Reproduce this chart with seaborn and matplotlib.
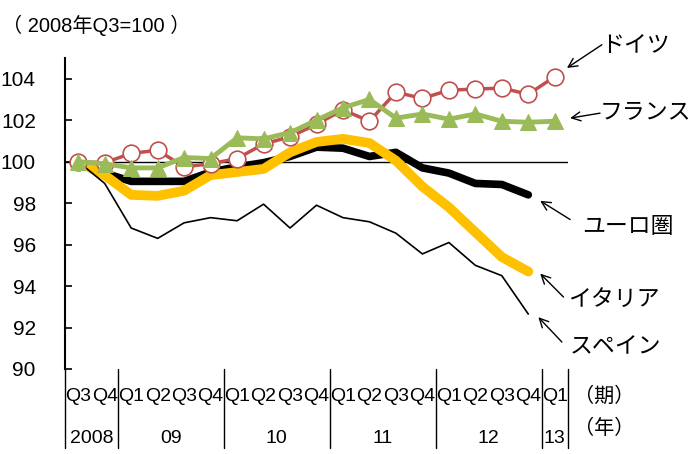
import matplotlib
matplotlib.use("Agg")
import matplotlib.pyplot as plt
import matplotlib.transforms as mtrans
import numpy as np
import pandas as pd
import seaborn as sns

# quarters from 2008Q3 to 2013Q1
quarters = ["Q3", "Q4", "Q1", "Q2", "Q3", "Q4", "Q1", "Q2", "Q3", "Q4",
            "Q1", "Q2", "Q3", "Q4", "Q1", "Q2", "Q3", "Q4", "Q1"]
years = ["2008", "09", "10", "11", "12", "13"]
quarters_per_year = [2, 4, 4, 4, 4, 1]

# real GDP index, 2008Q3 = 100
germany = [100.0, 99.95, 100.4, 100.55, 99.75, 99.9, 100.15, 100.85, 101.2, 101.8,
           102.5, 101.95, 103.35, 103.05, 103.45, 103.5, 103.55, 103.25, 104.1]
france = [100.0, 99.9, 99.7, 99.7, 100.2, 100.15, 101.15, 101.1, 101.4, 102.0,
          102.6, 103.0, 102.1, 102.3, 102.05, 102.3, 101.95, 101.9, 101.95]
euro = [100.0, 99.45, 99.05, 99.05, 99.05, 99.5, 99.75, 99.95, 100.25, 100.7,
        100.65, 100.25, 100.45, 99.7, 99.45, 98.95, 98.9, 98.4]
italy = [100.0, 99.35, 98.4, 98.35, 98.6, 99.35, 99.5, 99.65, 100.45, 100.95,
         101.1, 100.9, 100.05, 98.8, 97.8, 96.6, 95.4, 94.7]
spain = [100.0, 98.95, 96.8, 96.3, 97.05, 97.3, 97.15, 97.95, 96.8, 97.9,
         97.3, 97.1, 96.55, 95.55, 96.1, 95.0, 94.5, 92.65]

sns.set_theme(style="white")
plt.rcParams["font.family"] = ["Liberation Sans", "Noto Sans CJK JP", "DejaVu Sans"]
jp_font = ["Noto Sans CJK JP", "DejaVu Sans"]

fig = plt.figure(figsize=(6.98, 4.54), dpi=100)
ax = fig.add_axes([65 / 698, 1 - 369 / 454, 503 / 698, 311 / 454])


def series_df(values):
    return pd.DataFrame({"idx": np.arange(len(values)), "value": values})


ax.axhline(100, color="black", lw=1.0, zorder=1)
sns.lineplot(data=series_df(euro), x="idx", y="value", ax=ax, color="black",
             lw=5.5, zorder=2)
sns.lineplot(data=series_df(italy), x="idx", y="value", ax=ax, color="#FFC000",
             lw=7, zorder=3, solid_capstyle="round")
sns.lineplot(data=series_df(spain), x="idx", y="value", ax=ax, color="black",
             lw=1.2, zorder=4)
sns.lineplot(data=series_df(germany), x="idx", y="value", ax=ax, color="#C0504D",
             lw=2.5, marker="o", markersize=12, markerfacecolor="white",
             markeredgecolor="#C0504D", markeredgewidth=1.2, zorder=5)
sns.lineplot(data=series_df(france), x="idx", y="value", ax=ax, color="#9BBB59",
             lw=3.5, marker="^", markersize=11, markerfacecolor="#9BBB59",
             markeredgecolor="#9BBB59", zorder=6)

ax.set_xlim(-0.5, len(quarters) - 0.5)
ax.set_ylim(90, 105)
ax.set_yticks(np.arange(90, 105, 2))
ax.set_xticks([])
ax.set_xlabel("")
ax.set_ylabel("")
for side in ["top", "right", "bottom"]:
    ax.spines[side].set_visible(False)
ax.spines["left"].set_color("black")
ax.spines["left"].set_linewidth(1.5)
ax.tick_params(axis="y", direction="in", length=5, width=1.2, color="black",
               labelsize=15, pad=21, left=True, labelcolor="black")

# category axis below the plot
trans = mtrans.blended_transform_factory(ax.transData, ax.transAxes)
for i, q in enumerate(quarters):
    ax.text(i, -0.088, q, transform=trans, ha="center", va="center",
            fontsize=14, color="black")
bounds = np.concatenate([[0], np.cumsum(quarters_per_year)]) - 0.5
for b in bounds:
    ax.plot([b, b], [0, -0.255], transform=trans, color="black", lw=1.0,
            clip_on=False)
for k, y in enumerate(years):
    ax.text((bounds[k] + bounds[k + 1]) / 2, -0.222, y, transform=trans,
            ha="center", va="center", fontsize=14, color="black")
ax.text(19.85, -0.088, "（期）", transform=trans, ha="center", va="center",
        fontsize=14.5, family=jp_font, color="black")
ax.text(19.85, -0.19, "（年）", transform=trans, ha="center", va="center",
        fontsize=14.5, family=jp_font, color="black")

fig.text(2 / 698, 1 - 25 / 454, "（ 2008年Q3=100 ）", ha="left", va="center",
         fontsize=14.5, color="black")

# series labels with arrows
labels = [
    ("ドイツ", (18.46, 104.52), (19.78, 105.64), (19.75, 105.62)),
    ("フランス", (18.58, 102.10), (19.71, 102.34), (19.71, 102.42)),
    ("ユーロ圏", (17.45, 98.11), (18.58, 97.21), (19.03, 96.86)),
    ("イタリア", (17.45, 94.60), (18.33, 93.47), (18.5, 93.31)),
    ("スペイン", (17.38, 92.50), (18.27, 91.30), (18.58, 91.05)),
]
for name, head, tail, pos in labels:
    ax.annotate("", xy=head, xytext=tail, annotation_clip=False,
                arrowprops=dict(arrowstyle="->", color="black", lw=1.0,
                                mutation_scale=16, shrinkA=0, shrinkB=0))
    ax.text(pos[0], pos[1], name, ha="left", va="center", fontsize=16.5,
            family=jp_font, color="black", clip_on=False)

fig.savefig("out.png", dpi=100)
